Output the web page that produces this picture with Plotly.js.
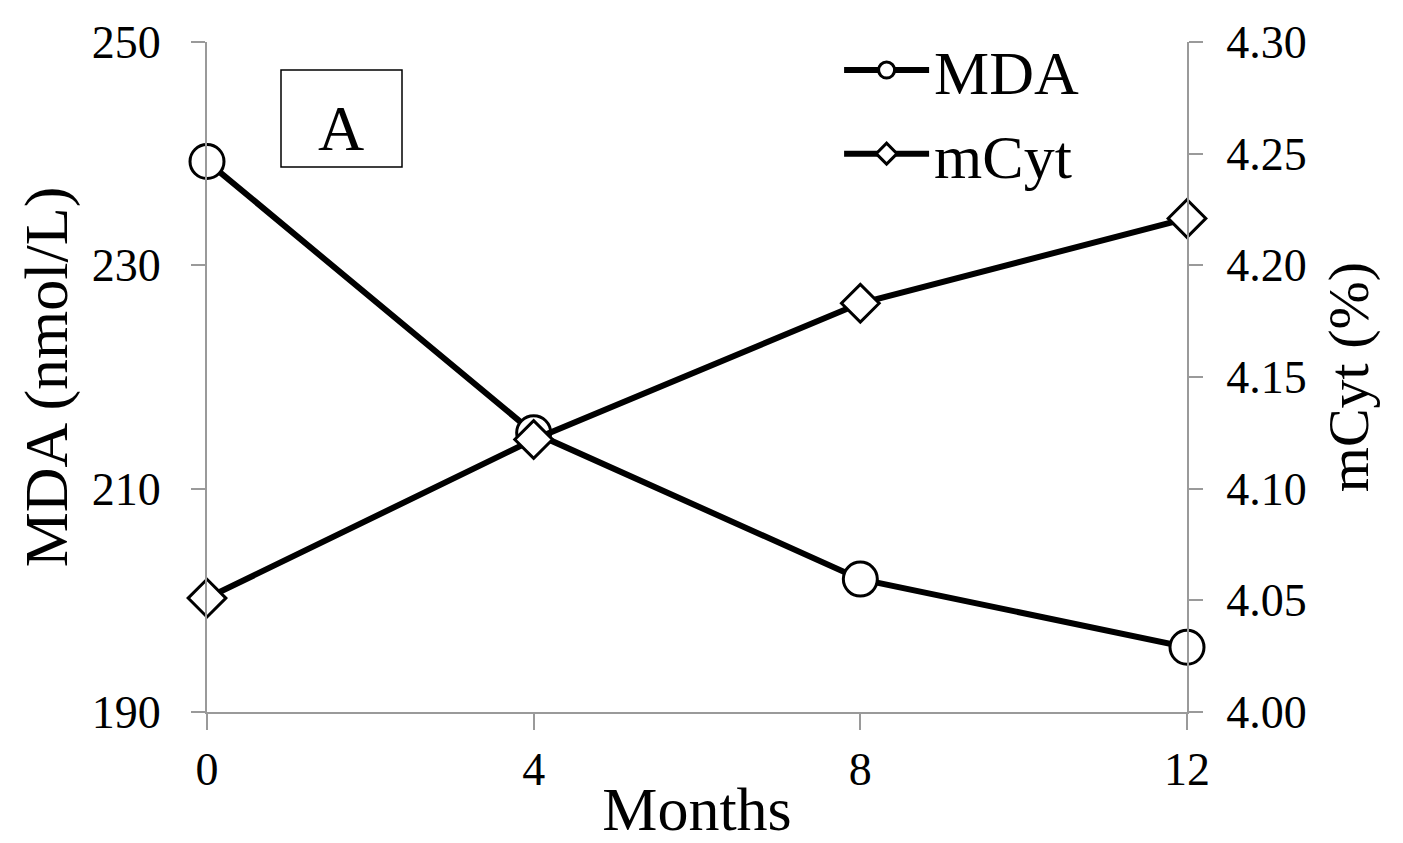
<!DOCTYPE html>
<html>
<head>
<meta charset="utf-8">
<script src="https://cdn.plot.ly/plotly-3.0.1.min.js"></script>
<style>html,body{margin:0;padding:0;background:#fff;}#chart{width:1403px;height:843px;}</style>
</head>
<body>
<div id="chart"></div>
<script>
var months = [0, 4, 8, 12];
var mdaValues = [239.3, 215.0, 201.9, 195.8];
var mcytValues = [4.051, 4.122, 4.183, 4.221];
var leftTicks = [190, 210, 230, 250];
var rightTicks = [4.00, 4.05, 4.10, 4.15, 4.20, 4.25, 4.30];
var xTicks = [0, 4, 8, 12];

var FONT = 'Liberation Serif, Times New Roman, serif';
var AXC = '#9a9a9a';

var traces = [
  {
    x: months, y: mdaValues, name: 'MDA', type: 'scatter', mode: 'lines+markers', cliponaxis: false,
    line: {color: '#000', width: 6},
    marker: {symbol: 'circle', size: 34, color: '#fff', line: {color: '#000', width: 3}},
    yaxis: 'y'
  },
  {
    x: months, y: mcytValues, name: 'mCyt', type: 'scatter', mode: 'lines+markers', cliponaxis: false,
    line: {color: '#000', width: 6},
    marker: {symbol: 'diamond', size: 29, color: '#fff', line: {color: '#000', width: 3}},
    yaxis: 'y2'
  }
];

var layout = {
  width: 1403, height: 843,
  margin: {l: 207, r: 216, t: 42, b: 131},
  paper_bgcolor: '#fff', plot_bgcolor: '#fff',
  font: {family: FONT, color: '#000', size: 46},
  showlegend: true,
  legend: {x: 0.645, y: 1.028, xanchor: 'left', yanchor: 'top', bgcolor: 'rgba(0,0,0,0)',
           font: {family: FONT, size: 62, color: '#000'}, itemwidth: 85, tracegroupgap: 0},
  xaxis: {
    range: [0, 12], tickvals: xTicks, ticktext: xTicks.map(String),
    showgrid: false, zeroline: false, showline: true, linecolor: AXC, linewidth: 2,
    ticks: 'outside', ticklen: 16, tickwidth: 2, tickcolor: AXC,
    tickfont: {family: FONT, size: 46, color: '#000'}, ticklabelstandoff: 0,
    title: {text: 'Months', font: {family: FONT, size: 62, color: '#000'}, standoff: 10},
    automargin: false
  },
  yaxis: {
    range: [190, 250], tickvals: leftTicks, ticktext: leftTicks.map(String),
    showgrid: false, zeroline: false, showline: true, linecolor: AXC, linewidth: 2,
    ticks: 'outside', ticklen: 14, tickwidth: 2, tickcolor: AXC,
    tickfont: {family: FONT, size: 46, color: '#000'}, ticklabelstandoff: 21,
    title: {text: 'MDA (nmol/L)', font: {family: FONT, size: 62, color: '#000'}, standoff: 4},
    automargin: false
  },
  yaxis2: {
    range: [4.00, 4.30], tickvals: rightTicks, ticktext: rightTicks.map(function(v){return v.toFixed(2);}),
    overlaying: 'y', side: 'right',
    showgrid: false, zeroline: false, showline: true, linecolor: AXC, linewidth: 2,
    ticks: 'outside', ticklen: 14, tickwidth: 2, tickcolor: AXC,
    tickfont: {family: FONT, size: 46, color: '#000'}, ticklabelstandoff: 14,
    title: {text: 'mCyt (%)', font: {family: FONT, size: 58, color: '#000'}, standoff: 22},
    automargin: false
  },
  shapes: [
    {type: 'rect', xref: 'paper', yref: 'paper', x0: (281-207)/980, x1: (402-207)/980,
     y0: (712-167)/670, y1: (712-70)/670, line: {color: '#000', width: 1.5}, fillcolor: 'rgba(0,0,0,0)'}
  ],
  annotations: [
    {xref: 'paper', yref: 'paper', x: (341-207)/980, y: (712-128)/670, text: 'A', showarrow: false,
     xanchor: 'center', yanchor: 'middle', font: {family: FONT, size: 64, color: '#000'}}
  ]
};

Plotly.newPlot('chart', traces, layout, {staticPlot: true, displayModeBar: false});
</script>
</body>
</html>
